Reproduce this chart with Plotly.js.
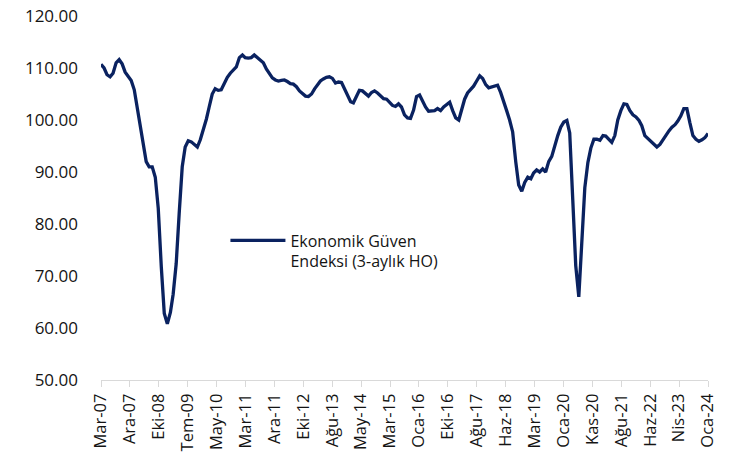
<!DOCTYPE html>
<html>
<head>
<meta charset="utf-8">
<script src="https://cdn.plot.ly/plotly-3.0.1.min.js"></script>
<style>
  html, body { margin: 0; padding: 0; background: #fff; }
  #chart { width: 737px; height: 469px; }
</style>
</head>
<body>
<div id="chart"></div>
<script>
// Ekonomik Güven Endeksi, 3-month moving average, monthly from Mar-2007
const START_YEAR = 2007;
const START_MONTH = 3;

const guvenEndeksi = [
  110.7, 110.0, 108.7, 108.3, 109.0, 111.0, 111.6, 110.8, 109.2, 108.3,
  107.6, 105.8, 102.5, 99.0, 95.5, 92.0, 91.0, 91.0, 89.0, 83.0,
  71.7, 62.8, 60.8, 63.0, 66.5, 72.4, 82.0, 91.0, 94.8, 96.0,
  95.8, 95.2, 94.8, 96.2, 98.1, 100.2, 102.5, 105.0, 106.0, 105.7,
  105.8, 107.1, 108.2, 109.0, 109.6, 110.2, 112.0, 112.5, 112.0, 111.9,
  112.0, 112.5, 112.0, 111.5, 111.0, 109.8, 109.0, 108.1, 107.7, 107.5,
  107.6, 107.7, 107.4, 107.0, 106.9, 106.4, 105.6, 105.0, 104.6, 104.5,
  105.0, 106.0, 106.8, 107.5, 107.9, 108.2, 108.3, 108.0, 107.1, 107.3,
  107.2, 106.0, 104.5, 103.5, 103.3, 104.4, 105.7, 105.6, 105.0, 104.6,
  105.3, 105.6, 105.2, 104.6, 104.1, 104.0, 103.5, 102.8, 102.6, 103.1,
  102.5, 101.0, 100.4, 100.3, 101.9, 104.5, 104.8, 103.5, 102.5, 101.7,
  101.7, 101.8, 102.2, 101.8, 102.5, 103.0, 103.4, 101.8, 100.4, 100.0,
  102.0, 104.0, 105.2, 105.8, 106.5, 107.5, 108.5, 108.0, 106.8, 106.2,
  106.4, 106.6, 106.7, 105.3, 103.3, 101.8, 100.0, 97.7, 92.0, 87.5,
  86.3, 88.0, 89.0, 88.7, 89.8, 90.4, 90.0, 90.6, 90.0, 92.0,
  93.0, 95.2, 97.0, 98.6, 99.6, 99.9, 97.5, 84.6, 72.0, 66.0,
  77.0, 87.0, 91.8, 94.6, 96.3, 96.3, 96.1, 97.0, 96.9, 96.3,
  95.7, 97.0, 100.0, 101.8, 103.1, 103.0, 101.8, 101.0, 100.6, 99.9,
  98.9, 97.0, 96.5, 96.0, 95.4, 94.8, 95.3, 96.2, 97.1, 97.9,
  98.6, 99.1, 99.8, 100.8, 102.2, 102.2, 99.5, 97.0, 96.3, 95.9,
  96.2, 96.6, 97.4
];

const tickLabels = [
  'Mar-07', 'Ara-07', 'Eki-08', 'Tem-09', 'May-10', 'Mar-11', 'Ara-11',
  'Eki-12', 'Ağu-13', 'May-14', 'Mar-15', 'Oca-16', 'Eki-16', 'Ağu-17',
  'Haz-18', 'Mar-19', 'Oca-20', 'Kas-20', 'Ağu-21', 'Haz-22', 'Nis-23',
  'Oca-24'
];

const seriesName = 'Ekonomik Güven<br>Endeksi (3-aylık HO)';

// month dates for each value
const dates = guvenEndeksi.map((_, i) => {
  const m = START_MONTH - 1 + i;
  const y = START_YEAR + Math.floor(m / 12);
  const mm = String((m % 12) + 1).padStart(2, '0');
  return `${y}-${mm}-01`;
});

// Excel spaces the date ticks evenly across the axis
const t0 = Date.parse(dates[0]);
const t1 = Date.parse(dates[dates.length - 1]);
const tickVals = tickLabels.map((_, i) => t0 + (t1 - t0) * i / (tickLabels.length - 1));

const FAMILY = 'Open Sans, Noto Sans, sans-serif';
const TEXT_COLOR = '#141414';

const traces = [{
  x: dates, y: guvenEndeksi, name: seriesName,
  type: 'scatter', mode: 'lines',
  line: { color: '#0a2260', width: 3.3 },
}];

const layout = {
  width: 737, height: 469,
  paper_bgcolor: '#fff', plot_bgcolor: '#fff',
  font: { family: FAMILY, size: 16, color: TEXT_COLOR },
  margin: { t: 16, r: 29, b: 89, l: 101 },
  showlegend: true,
  legend: {
    x: 0.205, y: 0.43, xanchor: 'left', yanchor: 'top',
    bgcolor: 'rgba(0,0,0,0)', valign: 'top',
    font: { family: FAMILY, size: 16, color: TEXT_COLOR },
    itemwidth: 55,
  },
  xaxis: {
    type: 'date',
    range: [t0, t1],
    tickmode: 'array', tickvals: tickVals, ticktext: tickLabels,
    tickangle: -90,
    ticks: 'outside', ticklen: 6, tickcolor: '#d9d9d9', tickwidth: 1,
    showline: true, linecolor: '#d9d9d9', linewidth: 1,
    showgrid: false, zeroline: false,
    tickfont: { family: FAMILY, size: 16.5, color: TEXT_COLOR },
  },
  yaxis: {
    range: [50, 120], dtick: 10, tick0: 50,
    tickformat: '.2f',
    showgrid: false, zeroline: false, showline: false,
    ticks: '', ticklabelstandoff: 22,
    tickfont: { family: FAMILY, size: 17, color: TEXT_COLOR },
  },
};

Plotly.newPlot('chart', traces, layout, { displayModeBar: false, staticPlot: true });
</script>
</body>
</html>
